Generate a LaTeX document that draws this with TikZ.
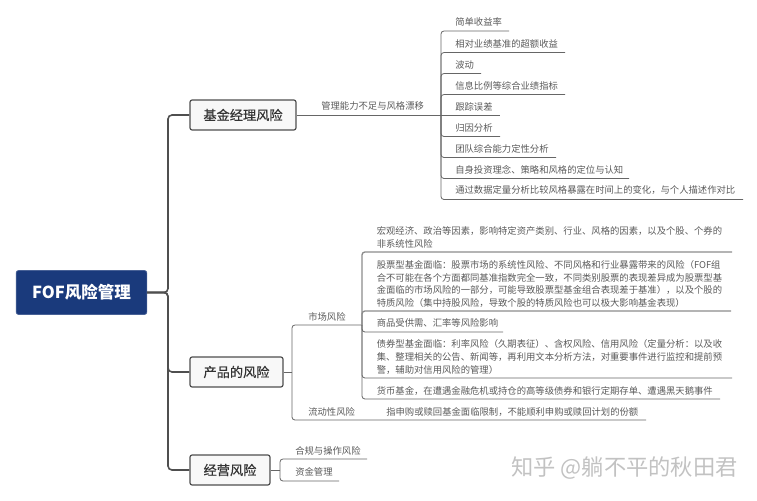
\documentclass[tikz,border=0pt]{standalone}
\usepackage{fontspec}
\setmainfont{Noto Sans CJK SC}
\newfontfamily\cjkmed[FakeBold=0.6]{Noto Sans CJK SC}
\definecolor{rootblue}{HTML}{1A3A7C}
\definecolor{boxfill}{HTML}{F8F8F8}
\definecolor{linedark}{HTML}{4F4F4F}
\definecolor{linemid}{HTML}{666666}
\definecolor{txt}{HTML}{5A5A5A}
\definecolor{mark}{HTML}{C2C2C2}
\tikzset{
  rootbox/.style={fill=rootblue,draw=rootblue!80!white,line width=.5pt,rounded corners=1.8pt,inner sep=0,minimum width=98pt,minimum height=33pt,text=white,font=\bfseries\fontsize{12.4}{14}\selectfont},
  topicbox/.style={fill=boxfill,draw=linedark,line width=.9pt,rounded corners=1.6pt,inner sep=0,minimum height=22.5pt,text=black!80,font=\cjkmed\fontsize{9.9}{12}\selectfont},
  trunkline/.style={draw=linedark,line width=1.2pt,rounded corners=3pt},
  leafline/.style={draw=linemid,line width=.6pt,rounded corners=2.2pt},
  heavyline/.style={draw=black!45,line width=1pt,rounded corners=2.2pt},
  leaf/.style={anchor=west,inner sep=0,text=txt,align=left,font=\fontsize{7}{9.6}\selectfont},
}
\begin{document}
\begin{tikzpicture}[x=.75pt,y=-.75pt]
\useasboundingbox (0,0) rectangle (757,500);
% root and topics
\node[rootbox] (root) at (81.5,292.5) {FOF风险管理};
\node[topicbox,minimum width=79.5pt] (t1) at (243,115) {基金经理风险};
\node[topicbox,minimum width=69.75pt] (t2) at (236.5,372) {产品的风险};
\node[topicbox,minimum width=60pt] (t3) at (230,470) {经营风险};
\coordinate (tr) at (168,292.5);
\draw[trunkline] (root.east) -- (tr) -- (tr|-t1) -- (t1.west);
\draw[trunkline] (root.east) -- (tr) -- (tr|-t2) -- (t2.west);
\draw[trunkline] (root.east) -- (tr) -- (tr|-t3) -- (t3.west);
% manager risk
\node[leaf] (m0) at (321,106) {管理能力不足与风格漂移};
\coordinate (mj) at (441,115);
\coordinate (m0e) at (500,115);
\draw[leafline] (t1.east) -- (m0e);
\foreach \n/\y/\e/\t in {
 1/22/509/{简单收益率},
 2/43.5/565/{相对业绩基准的超额收益},
 3/64.5/481/{波动},
 4/85.5/565/{信息比例等综合业绩指标},
 6/127.5/500/{归因分析},
 7/148.5/556/{团队综合能力定性分析},
 8/169.5/629/{自身投资理念、策略和风格的定位与认知},
 9/190.5/743/{通过数据定量分析比较风格暴露在时间上的变化，与个人描述作对比}}{
  \node[leaf] (m\n) at (455,\y) {\t};
  \coordinate (m\n e) at (\e,\y+9);
  \draw[leafline] (mj) -- (mj|-m\n e) -- (m\n e);
}
\node[leaf] (m5) at (455,106.5) {跟踪误差};
% product risk
\coordinate (pj) at (292,372);
\draw[leafline] (t2.east) -- (pj);
\node[leaf] (p1) at (308,317) {市场风险};
\coordinate (p1e) at (362,325);
\draw[leafline] (pj) -- (pj|-p1e) -- (p1e);
\node[leaf] (p2) at (308,412) {流动性风险};
\node[leaf] (p2a) at (386,412) {指申购或赎回基金面临限制，不能顺利申购或赎回计划的份额};
\coordinate (p2e) at (646,420);
\draw[leafline] (pj) -- (pj|-p2e) -- (p2e);
% market risk leaves
\node[leaf] (s1) at (376.5,237.5) {宏观经济、政治等因素，影响特定资产类别、行业、风格的因素，以及个股、个券的\\非系统性风险};
\node[leaf] (s2) at (376.5,284) {股票型基金面临：股票市场的系统性风险、不同风格和行业暴露带来的风险（FOF组\\合不可能在各个方面都同基准指数完全一致，不同类别股票的表现差异成为股票型基\\金面临的市场风险的一部分，可能导致股票型基金组合表现差于基准），以及个股的\\特质风险（集中持股风险，导致个股的特质风险也可以极大影响基金表现）};
\node[leaf] (s3) at (376.5,323) {商品受供需、汇率等风险影响};
\node[leaf] (s4) at (376.5,357) {债券型基金面临：利率风险（久期表征）、含权风险、信用风险（定量分析：以及收\\集、整理相关的公告、新闻等，再利用文本分析方法，对重要事件进行监控和提前预\\警，辅助对信用风险的管理）};
\node[leaf] (s5) at (376.5,391) {货币基金，在遭遇金融危机或持仓的高等级债券和银行定期存单、遭遇黑天鹅事件};
\coordinate (s1e) at (732,252);
\coordinate (s2e) at (731,311);
\coordinate (s3e) at (503,332);
\coordinate (s4e) at (732,378);
\coordinate (s5e) at (720,399);
\draw[heavyline] (p1e) -- (p1e|-s1e) -- (s1e);
\draw[heavyline] (p1e) -- (p1e|-s2e) -- (s2e);
\draw[leafline] (p1e) -- (p1e|-s3e) -- (s3e);
\draw[leafline] (p1e) -- (p1e|-s4e) -- (s4e);
\draw[leafline] (p1e) -- (p1e|-s5e) -- (s5e);
% operations risk
\coordinate (oj) at (280,470);
\draw[leafline] (t3.east) -- (oj);
\node[leaf] (o1) at (295,451) {合规与操作风险};
\node[leaf] (o2) at (295,472) {资金管理};
\coordinate (o1e) at (367,459);
\coordinate (o2e) at (339,481);
\draw[leafline] (oj) -- (oj|-o1e) -- (o1e);
\draw[leafline] (oj) -- (oj|-o2e) -- (o2e);
% watermark
\node[anchor=west,inner sep=0,text=mark,font=\fontsize{16.7}{20}\selectfont] (wm) at (511,468) {知乎 @躺不平的秋田君};
\end{tikzpicture}
\end{document}
